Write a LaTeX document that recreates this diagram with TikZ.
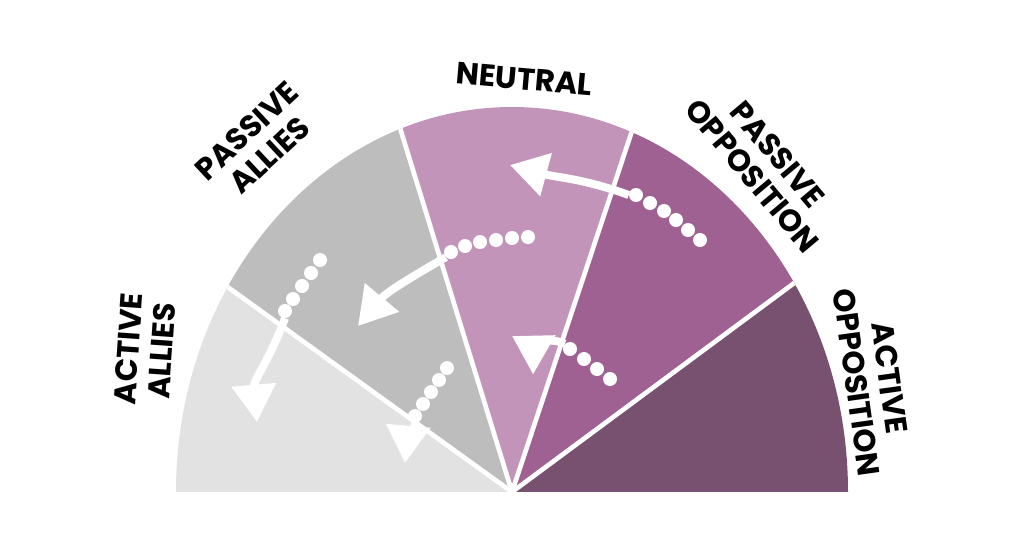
\documentclass[tikz,border=0pt]{standalone}
\usepackage{fontspec}
\setmainfont{Poppins}
\usetikzlibrary{arrows.meta}
\definecolor{cAA}{HTML}{E2E2E2}
\definecolor{cPA}{HTML}{BDBDBD}
\definecolor{cNE}{HTML}{C394BA}
\definecolor{cPO}{HTML}{9E6192}
\definecolor{cAO}{HTML}{77516F}
\begin{document}
\begin{tikzpicture}[x=0.75pt,y=-0.75pt,
  lbl/.style={font=\bfseries\fontsize{23}{25}\selectfont, align=center, text=black, inner sep=0pt},
  sep/.style={white, line width=3.5pt},
  mv/.style={white, line width=6pt, -{Triangle[width=32pt,length=28pt]}},
  dot/.style={circle, fill=white, inner sep=0pt, minimum size=10.5pt}]
\useasboundingbox (0,0) rectangle (1024,558);
\coordinate (c) at (512,492);
\begin{scope}
\clip (512,492) ellipse [x radius=336, y radius=385];
\fill[cAA] (c) -- (-76,492) -- (-76,68) -- cycle;
\fill[cPA] (c) -- (-76,68) -- (282,-256) -- cycle;
\fill[cNE] (c) -- (282,-256) -- (754,-236) -- cycle;
\fill[cPO] (c) -- (754,-236) -- (1098,58) -- cycle;
\fill[cAO] (c) -- (1098,58) -- (1098,492) -- cycle;
\draw[sep] (c) -- (-76,68);
\draw[sep] (c) -- (282,-256);
\draw[sep] (c) -- (754,-236);
\draw[sep] (c) -- (1098,58);
\end{scope}
\fill[white] (150,492) rectangle (880,520);
% labels
\node[lbl, rotate=-5] (ne) at (524,79) {NEUTRAL};
\node[lbl, rotate=43] (pa) at (258,143) {PASSIVE\\ALLIES};
\node[lbl, rotate=86] (aa) at (145,350) {ACTIVE\\ALLIES};
\node[lbl, rotate=-50] (po) at (765,165) {PASSIVE\\OPPOSITION};
\node[lbl, rotate=-82] (ao) at (873,380) {ACTIVE\\OPPOSITION};
% arrow 1
\foreach \x/\y [count=\i] in {700/240,688/230,676/220,664/211,650/203,636/195}
  \node[dot] (a\i) at (\x,\y) {};
\draw[mv] (a6.west) to[out=160,in=-15] (510,165);
% arrow 2
\foreach \x/\y [count=\i] in {528/237,512/238,496/240,480/242,465/246,451/252}
  \node[dot] (b\i) at (\x,\y) {};
\draw[mv] (b6.south west) to[out=210,in=50] (358,326);
% arrow 3
\foreach \x/\y [count=\i] in {320/260,311/273,302/286,293/299,285/311}
  \node[dot] (d\i) at (\x,\y) {};
\draw[mv] (d5.south) to[out=-110,in=95] (257,422);
% arrow 4
\foreach \x/\y [count=\i] in {447/368,439/380,431/392,423/404,415/416}
  \node[dot] (e\i) at (\x,\y) {};
\draw[mv] (e5.south) to[out=-100,in=85] (405,463);
% arrow 5
\foreach \x/\y [count=\i] in {610/379,597/369,584/359,570/349}
  \node[dot] (f\i) at (\x,\y) {};
\draw[mv] (f4.north west) to[out=155,in=-30] (512,336);
\end{tikzpicture}
\end{document}
